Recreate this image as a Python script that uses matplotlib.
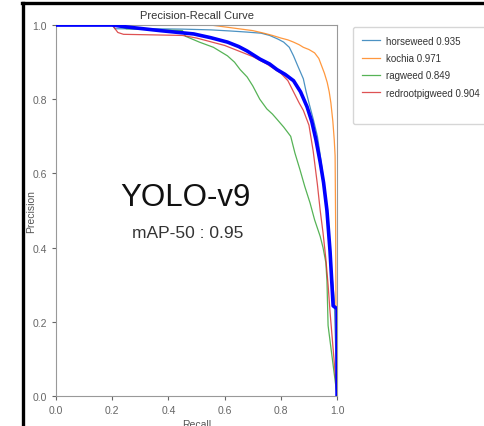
import matplotlib
matplotlib.use('Agg')
import matplotlib.pyplot as plt
from matplotlib.lines import Line2D

# recall / precision points
horseweed_r = [0, 0.20, 0.21, 0.35, 0.45, 0.55, 0.62, 0.68, 0.73, 0.76, 0.79, 0.81, 0.83, 0.845, 0.86, 0.88, 0.89, 0.90, 0.915, 0.93, 0.94, 0.95, 0.96, 0.97, 0.98, 0.99, 1.0]
horseweed_p = [1, 1.00, 0.99, 0.99, 0.989, 0.987, 0.984, 0.981, 0.978, 0.972, 0.962, 0.954, 0.94, 0.917, 0.89, 0.855, 0.82, 0.79, 0.747, 0.70, 0.65, 0.59, 0.52, 0.43, 0.34, 0.26, 0]

kochia_r = [0, 0.55, 0.60, 0.65, 0.70, 0.74, 0.77, 0.80, 0.825, 0.845, 0.865, 0.88, 0.90, 0.92, 0.935, 0.945, 0.955, 0.965, 0.972, 0.978, 0.985, 0.99, 0.993, 0.995, 0.996, 1.0]
kochia_p = [1, 1.00, 0.995, 0.99, 0.985, 0.978, 0.972, 0.965, 0.96, 0.954, 0.947, 0.94, 0.934, 0.925, 0.91, 0.89, 0.87, 0.845, 0.82, 0.79, 0.74, 0.69, 0.647, 0.45, 0.25, 0]

ragweed_r = [0, 0.22, 0.25, 0.45, 0.46, 0.51, 0.56, 0.61, 0.635, 0.655, 0.68, 0.70, 0.725, 0.75, 0.77, 0.785, 0.81, 0.835, 0.85, 0.868, 0.885, 0.904, 0.92, 0.94, 0.95, 0.96, 0.964, 0.968, 1.0]
ragweed_p = [1, 1.00, 0.99, 0.985, 0.97, 0.954, 0.94, 0.917, 0.90, 0.88, 0.86, 0.836, 0.80, 0.774, 0.76, 0.747, 0.725, 0.70, 0.655, 0.61, 0.565, 0.52, 0.475, 0.43, 0.40, 0.36, 0.31, 0.19, 0]

redroot_r = [0, 0.20, 0.22, 0.24, 0.45, 0.50, 0.55, 0.60, 0.65, 0.70, 0.75, 0.80, 0.825, 0.845, 0.865, 0.88, 0.90, 0.915, 0.93, 0.94, 0.95, 0.96, 0.968, 0.975, 1.0]
redroot_p = [1, 1.00, 0.98, 0.975, 0.972, 0.965, 0.955, 0.945, 0.93, 0.915, 0.895, 0.87, 0.85, 0.82, 0.79, 0.77, 0.73, 0.66, 0.57, 0.50, 0.44, 0.37, 0.30, 0.226, 0]

mean_r = [0, 0.20, 0.25, 0.37, 0.49, 0.55, 0.61, 0.65, 0.68, 0.726, 0.76, 0.786, 0.815, 0.845, 0.87, 0.893, 0.91, 0.925, 0.94, 0.952, 0.964, 0.975, 0.986, 1.0, 1.0]
mean_p = [1, 1.00, 0.995, 0.985, 0.976, 0.966, 0.954, 0.942, 0.93, 0.908, 0.895, 0.88, 0.867, 0.85, 0.82, 0.78, 0.74, 0.69, 0.63, 0.575, 0.50, 0.39, 0.243, 0.235, 0]

labels = ['horseweed 0.935', 'kochia 0.971', 'ragweed 0.849', 'redrootpigweed 0.904']
colors = ['#1f77b4', '#ff7f0e', '#2ca02c', '#d62728']

plt.rcParams['font.family'] = ['Liberation Sans', 'DejaVu Sans']

fig = plt.figure(figsize=(4.85, 4.27), dpi=100)
ax = fig.add_axes([0.1155, 0.0703, 0.5795, 0.8687])

curves = [(horseweed_r, horseweed_p), (kochia_r, kochia_p), (ragweed_r, ragweed_p), (redroot_r, redroot_p)]
for (r, p), lab, c in zip(curves, labels, colors):
    ax.plot(r, p, color=c, linewidth=0.9, alpha=0.8, label=lab)
ax.plot(mean_r, mean_p, color='blue', linewidth=2.6, label=' ', zorder=5)

ax.set_xlim(0, 1)
ax.set_ylim(0, 1)
ax.set_xticks([0, 0.2, 0.4, 0.6, 0.8, 1.0])
ax.set_yticks([0, 0.2, 0.4, 0.6, 0.8, 1.0])
ax.tick_params(labelsize=7.5, colors='#666666', length=3, width=0.8)
for s in ax.spines.values():
    s.set_color('#999999')
ax.set_title('Precision-Recall Curve', fontsize=8, color='#333333', pad=5)
ax.set_xlabel('Recall', fontsize=7.5, color='#555555', labelpad=3)
ax.set_ylabel('Precision', fontsize=7.5, color='#555555')
ax.yaxis.set_label_coords(-0.072, 0.5)

ax.text(0.459, 0.536, 'YOLO-v9', fontsize=22.5, color='#111111', ha='center', va='center')
ax.text(0.47, 0.44, 'mAP-50 : 0.95', fontsize=12.5, color='#333333', ha='center', va='center')

handles, labs = ax.get_legend_handles_labels()
handles[-1] = Line2D([], [], color='white', linewidth=0)
leg = ax.legend(handles, labs, loc='upper left', bbox_to_anchor=(1.057, 0.995), fontsize=7,
                frameon=True, borderaxespad=0, borderpad=0.9, labelspacing=0.75,
                handlelength=1.9, handletextpad=0.55)
leg.get_frame().set_edgecolor('#cccccc')
for t in leg.get_texts():
    t.set_color('#333333')

# black frame on left and top
fig.add_artist(Line2D([23.5 / 485, 23.5 / 485], [0, 1 - 4 / 427], color='black', linewidth=2.4,
                      transform=fig.transFigure))
fig.add_artist(Line2D([22 / 485, 1], [1 - 4 / 427, 1 - 4 / 427], color='black', linewidth=2.4,
                      transform=fig.transFigure))

fig.savefig('out.png', dpi=100)
